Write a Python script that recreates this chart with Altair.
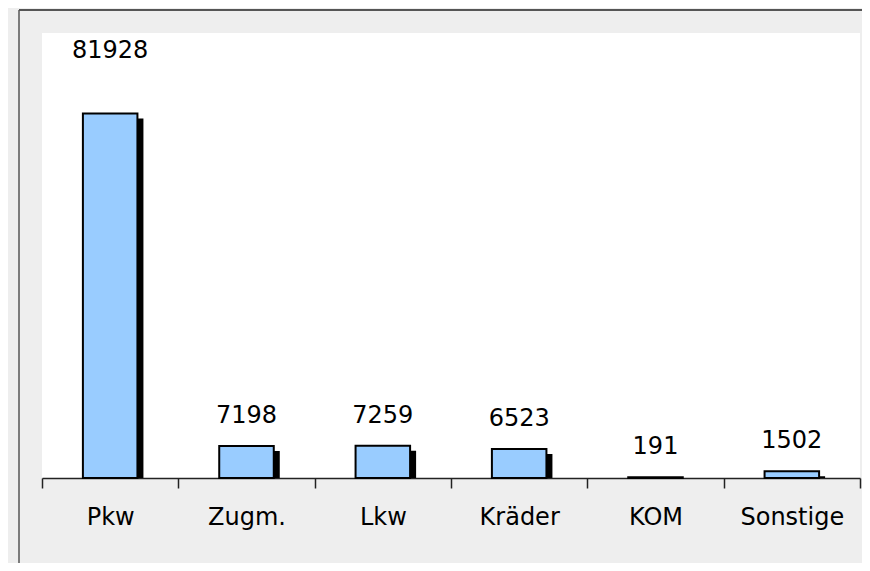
import altair as alt
import pandas as pd

categories = ["Pkw", "Zugm.", "Lkw", "Kräder", "KOM", "Sonstige"]
values = [81928, 7198, 7259, 6523, 191, 1502]

df = pd.DataFrame({"cat": categories, "val": values})

W, H = 818, 445
FONT = "DejaVu Sans"

x = alt.X(
    "cat:N",
    sort=categories,
    scale=alt.Scale(paddingInner=0, paddingOuter=0),
    axis=alt.Axis(
        title=None, labelAngle=0, tickBand="extent", tickSize=10,
        domainColor="#222222", tickColor="#222222", domainWidth=1.5, tickWidth=1.5,
        labelFont=FONT, labelFontSize=24, labelColor="black", labelPadding=17,
    ),
)
y = alt.Y("val:Q", scale=alt.Scale(domain=[0, 100000]), axis=None)

base = alt.Chart(df).encode(x=x, y=y)

shadow = base.mark_bar(
    width=alt.RelativeBandSize(0.4), color="black", xOffset=6, yOffset=5, clip=True
)
bars = base.mark_bar(
    width=alt.RelativeBandSize(0.4), fill="#99ccff", stroke="black", strokeWidth=2
)
labels = base.transform_filter(alt.datum.cat != "Pkw").mark_text(
    dy=-23, font=FONT, fontSize=24, color="black", baseline="alphabetic"
).encode(text="val:Q")
label_top = base.transform_filter(alt.datum.cat == "Pkw").mark_text(
    dy=-55, font=FONT, fontSize=24, color="black", baseline="alphabetic"
).encode(text="val:Q")

one = pd.DataFrame({"a": [0]})
frame_top = alt.Chart(one).mark_rule(color="#555555", strokeWidth=2).encode(
    x=alt.value(-23), x2=alt.value(W + 10), y=alt.value(-23)
)
frame_left = alt.Chart(one).mark_rule(color="#555555", strokeWidth=1.5).encode(
    x=alt.value(-23), y=alt.value(-23), y2=alt.value(H + 90)
)

chart = alt.layer(frame_top, frame_left, shadow, bars, labels, label_top).properties(
    width=W, height=H,
    autosize="none",
    padding={"left": 34, "top": 25, "right": 2, "bottom": 85},
    background="#eeeeee",
).configure_view(fill="white", strokeWidth=0)

chart.save("out.html", embed_options={"renderer": "svg", "actions": False})
